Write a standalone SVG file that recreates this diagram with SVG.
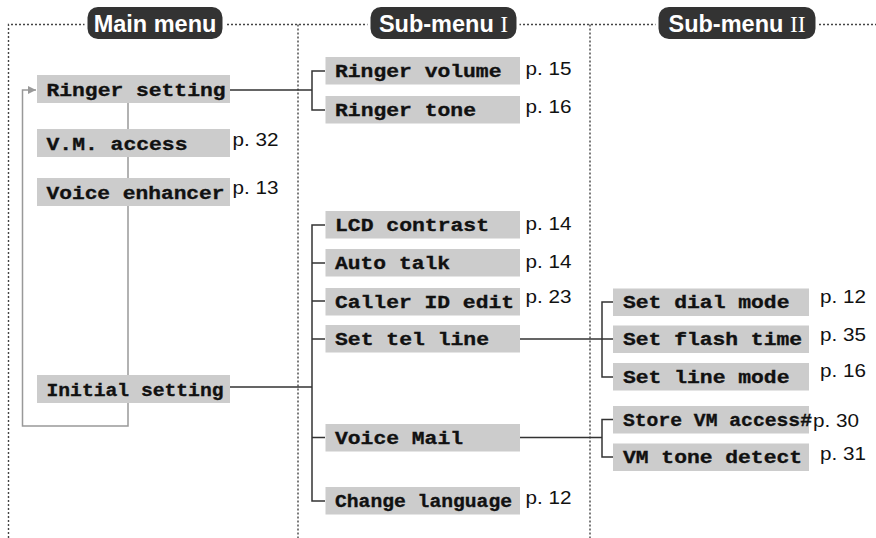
<svg xmlns="http://www.w3.org/2000/svg" width="876" height="538" viewBox="0 0 876 538">
<style>
.frame{fill:none;stroke:#444;stroke-width:1.4;stroke-dasharray:2 2}
.pill{fill:#333;stroke:#fff;stroke-width:3}
.ptxt{font-family:"Liberation Sans",Arial,sans-serif;font-weight:bold;font-size:23.5px;fill:#fff;text-anchor:middle}
.rom{font-family:"Liberation Serif","Times New Roman",serif;font-weight:normal}
.box{fill:#cccccc}
.lbl{font-family:"Liberation Mono","Courier New",monospace;font-weight:bold;font-size:19px;fill:#111;stroke:#111;stroke-width:0.35}
.pg{font-family:"Liberation Sans",Arial,sans-serif;font-size:18px;fill:#111}
.grey{fill:none;stroke:#999;stroke-width:1.5}
.blk{fill:none;stroke:#333;stroke-width:1.5}
</style>
<defs>
<marker id="arr" viewBox="0 0 10 10" refX="10" refY="5" markerWidth="8" markerHeight="8" markerUnits="userSpaceOnUse" orient="auto">
<path d="M0,0 L10,5 L0,10 Z" fill="#999"/>
</marker>
</defs>

<g id="frame">
<path class="frame" d="M8.5,538 V24.5 H876"/>
<path class="frame" d="M298,24.5 V538"/>
<path class="frame" d="M590,24.5 V538"/>
</g>

<g id="headers">
<g id="hdr-main"><rect class="pill" x="86" y="5.5" width="138" height="35" rx="12"/><text class="ptxt" x="155" y="32">Main menu</text></g>
<g id="hdr-sub1"><rect class="pill" x="369" y="5.5" width="149" height="35" rx="12"/><text class="ptxt" x="443.5" y="32">Sub-menu <tspan class="rom">I</tspan></text></g>
<g id="hdr-sub2"><rect class="pill" x="657" y="5.5" width="160" height="35" rx="12"/><text class="ptxt" x="737" y="32">Sub-menu <tspan class="rom">II</tspan></text></g>
</g>

<g id="connectors">
<path class="grey" d="M128,103 V426 H22.5 V90 H36" marker-end="url(#arr)"/>
<path class="blk" d="M230,90 H312 M325,71 H312 V110 H325"/>
<path class="blk" d="M230,387 H312 M325,225 H312 V501 H325 M312,263 H325 M312,301 H325 M312,339 H325 M312,437.5 H325"/>
<path class="blk" d="M520,339 H602 M613,302 H602 V377 H613 M602,339 H613"/>
<path class="blk" d="M520,437.5 H602 M613,419.5 H602 V457 H613"/>
</g>

<g id="n-ringer-setting"><rect class="box" x="37" y="75" width="193" height="28"/><text class="lbl" x="46.5" y="95.5" textLength="179" lengthAdjust="spacingAndGlyphs">Ringer setting</text></g>
<g id="n-vm-access"><rect class="box" x="37" y="129" width="193" height="28"/><text class="lbl" x="46.5" y="149.5" textLength="141" lengthAdjust="spacingAndGlyphs">V.M. access</text><text class="pg" x="232.5" y="146" textLength="46" lengthAdjust="spacingAndGlyphs">p. 32</text></g>
<g id="n-voice-enhancer"><rect class="box" x="37" y="178" width="193" height="28"/><text class="lbl" x="46.5" y="198.5" textLength="178" lengthAdjust="spacingAndGlyphs">Voice enhancer</text><text class="pg" x="232.5" y="194" textLength="46" lengthAdjust="spacingAndGlyphs">p. 13</text></g>
<g id="n-initial-setting"><rect class="box" x="37" y="375" width="193" height="28"/><text class="lbl" x="46.5" y="395.5" textLength="177" lengthAdjust="spacingAndGlyphs">Initial setting</text></g>

<g id="n-ringer-volume"><rect class="box" x="325.5" y="57" width="194.5" height="27.5"/><text class="lbl" x="335" y="76.5" textLength="166.5" lengthAdjust="spacingAndGlyphs">Ringer volume</text><text class="pg" x="525.5" y="75" textLength="46" lengthAdjust="spacingAndGlyphs">p. 15</text></g>
<g id="n-ringer-tone"><rect class="box" x="325.5" y="96" width="194.5" height="27.5"/><text class="lbl" x="335" y="115.5" textLength="141" lengthAdjust="spacingAndGlyphs">Ringer tone</text><text class="pg" x="525.5" y="113" textLength="46" lengthAdjust="spacingAndGlyphs">p. 16</text></g>
<g id="n-lcd-contrast"><rect class="box" x="325.5" y="211" width="194.5" height="27.5"/><text class="lbl" x="335" y="230.5" textLength="154" lengthAdjust="spacingAndGlyphs">LCD contrast</text><text class="pg" x="525.5" y="230" textLength="46" lengthAdjust="spacingAndGlyphs">p. 14</text></g>
<g id="n-auto-talk"><rect class="box" x="325.5" y="249" width="194.5" height="27.5"/><text class="lbl" x="335" y="268.5" textLength="115" lengthAdjust="spacingAndGlyphs">Auto talk</text><text class="pg" x="525.5" y="268" textLength="46" lengthAdjust="spacingAndGlyphs">p. 14</text></g>
<g id="n-caller-id-edit"><rect class="box" x="325.5" y="288" width="194.5" height="27.5"/><text class="lbl" x="335" y="307.5" textLength="179" lengthAdjust="spacingAndGlyphs">Caller ID edit</text><text class="pg" x="525.5" y="303" textLength="46" lengthAdjust="spacingAndGlyphs">p. 23</text></g>
<g id="n-set-tel-line"><rect class="box" x="325.5" y="325" width="194.5" height="27.5"/><text class="lbl" x="335" y="344.5" textLength="154" lengthAdjust="spacingAndGlyphs">Set tel line</text></g>
<g id="n-voice-mail"><rect class="box" x="325.5" y="424" width="194.5" height="27.5"/><text class="lbl" x="335" y="443.5" textLength="128" lengthAdjust="spacingAndGlyphs">Voice Mail</text></g>
<g id="n-change-language"><rect class="box" x="325.5" y="487" width="194.5" height="27.5"/><text class="lbl" x="335" y="506.5" textLength="177" lengthAdjust="spacingAndGlyphs">Change language</text><text class="pg" x="525.5" y="504" textLength="46" lengthAdjust="spacingAndGlyphs">p. 12</text></g>

<g id="n-set-dial-mode"><rect class="box" x="613" y="288.5" width="196" height="27.5"/><text class="lbl" x="623" y="308" textLength="166.5" lengthAdjust="spacingAndGlyphs">Set dial mode</text><text class="pg" x="820" y="303" textLength="46" lengthAdjust="spacingAndGlyphs">p. 12</text></g>
<g id="n-set-flash-time"><rect class="box" x="613" y="325.5" width="196" height="27.5"/><text class="lbl" x="623" y="345" textLength="179" lengthAdjust="spacingAndGlyphs">Set flash time</text><text class="pg" x="820" y="341" textLength="46" lengthAdjust="spacingAndGlyphs">p. 35</text></g>
<g id="n-set-line-mode"><rect class="box" x="613" y="363" width="196" height="27.5"/><text class="lbl" x="623" y="382.5" textLength="166.5" lengthAdjust="spacingAndGlyphs">Set line mode</text><text class="pg" x="820" y="377" textLength="46" lengthAdjust="spacingAndGlyphs">p. 16</text></g>
<g id="n-store-vm-access"><rect class="box" x="613" y="406" width="196" height="27.5"/><text class="lbl" x="623" y="425.5" textLength="189" lengthAdjust="spacingAndGlyphs">Store VM access#</text><text class="pg" x="813" y="426.5" textLength="46" lengthAdjust="spacingAndGlyphs">p. 30</text></g>
<g id="n-vm-tone-detect"><rect class="box" x="613" y="443.5" width="196" height="27.5"/><text class="lbl" x="623" y="463" textLength="179" lengthAdjust="spacingAndGlyphs">VM tone detect</text><text class="pg" x="820" y="460" textLength="46" lengthAdjust="spacingAndGlyphs">p. 31</text></g>
</svg>
